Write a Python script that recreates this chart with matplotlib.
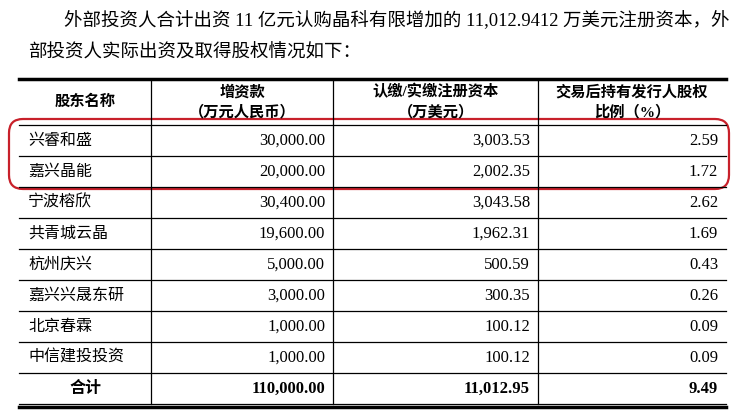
import matplotlib as mpl
mpl.use('Agg')
import matplotlib.pyplot as plt
from matplotlib.patches import FancyBboxPatch

plt.rcParams['font.family'] = ['Liberation Serif', 'Noto Sans CJK SC']

intro1 = "外部投资人合计出资 11 亿元认购晶科有限增加的 11,012.9412 万美元注册资本，外"
intro2 = "部投资人实际出资及取得股权情况如下："
headers = ["股东名称", "增资款\n（万元人民币）", "认缴/实缴注册资本\n（万美元）", "交易后持有发行人股权\n比例（%）"]
names = ["兴睿和盛", "嘉兴晶能", "宁波榕欣", "共青城云晶", "杭州庆兴", "嘉兴兴晟东研", "北京春霖", "中信建投投资"]
capital_rmb = ["30,000.00", "20,000.00", "30,400.00", "19,600.00", "5,000.00", "3,000.00", "1,000.00", "1,000.00"]
capital_usd = ["3,003.53", "2,002.35", "3,043.58", "1,962.31", "500.59", "300.35", "100.12", "100.12"]
share_pct = ["2.59", "1.72", "2.62", "1.69", "0.43", "0.26", "0.09", "0.09"]
total_row = ["合计", "110,000.00", "11,012.95", "9.49"]

fig = plt.figure(figsize=(7.45, 4.15), dpi=100)
ax = fig.add_axes([0, 0, 1, 1])
ax.set_xlim(0, 745)
ax.set_ylim(415, 0)
ax.axis('off')

ax.text(64, 21, intro1, fontsize=13.3, va='center')
ax.text(28, 53, intro2, fontsize=13.3, va='center')

left, right = 19, 726
cols = [left, 151, 333, 538, right]
top, head_bot, pitch = 79, 125, 31
row_tops = [head_bot + i * pitch for i in range(len(names) + 1)]
bottom = row_tops[-1] + 32

# horizontal rules
ax.plot([left, right], [top, top], color='black', lw=2.5)
for y in row_tops:
    ax.plot([left, right], [y, y], color='black', lw=0.9)
ax.plot([left, right], [bottom - 1.5, bottom - 1.5], color='black', lw=0.9)
ax.plot([left, right], [bottom + 1.5, bottom + 1.5], color='black', lw=2.5)
for x in cols[1:-1]:
    ax.plot([x, x], [top + 1, bottom - 1.5], color='black', lw=0.9)

# header
hy = (top + head_bot) / 2
for i, h in enumerate(headers):
    ax.text((cols[i] + cols[i + 1]) / 2, hy, h, fontsize=11, weight='bold',
            ha='center', va='center', linespacing=1.45)

def draw_row(y0, y1, vals, center_first=False):
    yc = (y0 + y1) / 2
    if center_first:
        ax.text((cols[0] + cols[1]) / 2, yc, vals[0], fontsize=11.5, ha='center', va='center', weight='bold')
    else:
        ax.text(cols[0] + 9, yc, vals[0], fontsize=11.5, ha='left', va='center')
    for j in range(1, 4):
        ax.text(cols[j + 1] - 8, yc, vals[j], fontsize=12, ha='right', va='center',
                weight='bold' if center_first else 'normal')

for i in range(len(names)):
    draw_row(row_tops[i], row_tops[i + 1], [names[i], capital_rmb[i], capital_usd[i], share_pct[i]])
draw_row(row_tops[-1], bottom, total_row, center_first=True)

box = FancyBboxPatch((9, 119), 720, 70, boxstyle="round,pad=0,rounding_size=14",
                     fill=False, edgecolor='#c8202a', lw=1.6)
ax.add_patch(box)

fig.savefig("out.png", dpi=100)
